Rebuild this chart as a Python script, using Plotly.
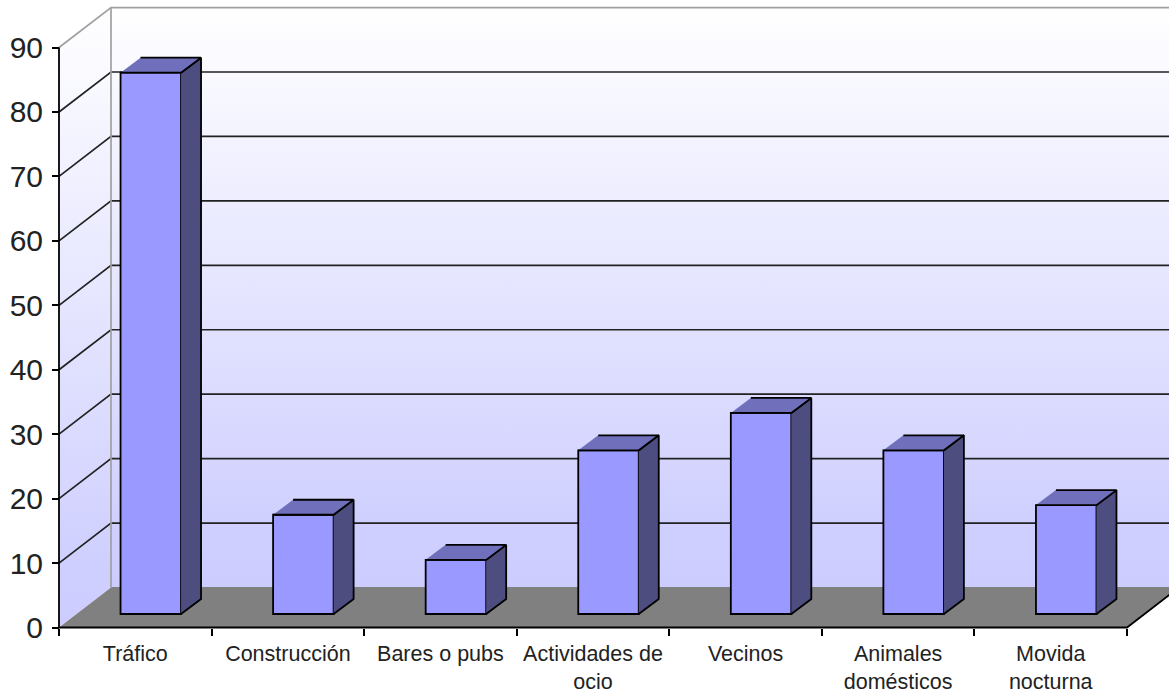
import plotly.graph_objects as go

categories = ["Tráfico", "Construcción", "Bares o pubs", "Actividades de<br>ocio",
              "Vecinos", "Animales<br>domésticos", "Movida<br>nocturna"]
values = [84.0, 15.4, 8.4, 25.4, 31.2, 25.4, 16.9]
y_ticks = [0, 10, 20, 30, 40, 50, 60, 70, 80, 90]

W, H = 1169, 696
X0_PX, Y0_PX = 59.0, 627.5
CAT_PX, UNIT_PX = 152.57, 6.444

xrange_ = [-0.5 - X0_PX / CAT_PX, -0.5 + (W - X0_PX) / CAT_PX]
yrange_ = [-(H - Y0_PX) / UNIT_PX, Y0_PX / UNIT_PX]

# depth of the box
DX, DY = 52 / CAT_PX, 40 / UNIT_PX
xL, xR = -0.5, 6.5
top = y_ticks[-1]

# bar geometry
BAR_W = 60.5 / CAT_PX
BAR_DX, BAR_BASE = 15.5 / CAT_PX, 13.5 / UNIT_PX
FACE_DX, FACE_DY = 20 / CAT_PX, 15 / UNIT_PX

GRAD = [[0, "#ccccff"], [0.1, "#cfcfff"], [1, "#ffffff"]]


def poly(xs, ys, color=None, line="black", width=1, axes=("x", "y"), grad=None):
    kw = dict(x=xs, y=ys, mode="lines", fill="toself", xaxis=axes[0], yaxis=axes[1],
              hoverinfo="skip", showlegend=False, line=dict(color=line, width=width))
    if grad:
        kw["fillgradient"] = dict(type="vertical", colorscale=grad)
        kw["line"] = dict(color="rgba(0,0,0,0)", width=0)
    else:
        kw["fillcolor"] = color
    return go.Scatter(**kw)


def path(xs, ys, color, width=1.2, axes=("x", "y")):
    return go.Scatter(x=xs, y=ys, mode="lines", xaxis=axes[0], yaxis=axes[1], hoverinfo="skip",
                      showlegend=False, line=dict(color=color, width=width))


fig = go.Figure()

# walls and floor
fig.add_trace(poly([xL, xL + DX, xL + DX, xL], [0, DY, top + DY, top], grad=GRAD))
fig.add_trace(poly([xL + DX, xR + DX, xR + DX, xL + DX], [DY, DY, top + DY, top + DY], grad=GRAD))
fig.add_trace(poly([xL, xR, xR + DX, xL + DX], [0, 0, DY, DY], color="#808080", line="#808080"))

# gridlines on the walls
for v in y_ticks[1:-1]:
    fig.add_trace(path([xL, xL + DX, xR + DX], [v, v + DY, v + DY], "#222222", 1.7))
fig.add_trace(path([xL, xL + DX, xR + DX], [top, top + DY, top + DY], "#a0a0a0", 1.7))
fig.add_trace(path([xL + DX, xL + DX], [DY, top + DY], "#a0a0a0", 1.7))

# axis lines
fig.add_trace(path([xL, xL], [0, top], "black", 1.8))
fig.add_trace(path([xL, xR, xR + DX], [0, 0, DY], "black", 1.8))

# bars: front faces
cx = [i + BAR_DX for i in range(len(values))]
fig.add_trace(go.Bar(x=cx, y=values, base=[BAR_BASE] * len(values), width=BAR_W,
                     marker=dict(color="#9999ff", line=dict(color="black", width=1.8)),
                     xaxis="x2", yaxis="y2", hoverinfo="skip", showlegend=False))

# bars: side and top faces
ax2 = ("x2", "y2")
for c, v in zip(cx, values):
    l, r = c - BAR_W / 2, c + BAR_W / 2
    b, t = BAR_BASE, BAR_BASE + v
    fig.add_trace(poly([r, r + FACE_DX, r + FACE_DX, r], [b, b + FACE_DY, t + FACE_DY, t],
                       color="#4d4d80", width=1.8, axes=ax2))
    fig.add_trace(poly([l, r, r + FACE_DX, l + FACE_DX], [t, t, t + FACE_DY, t + FACE_DY],
                       color="#6f6fbb", width=1.8, axes=ax2))

fig.update_layout(
    width=W, height=H, autosize=False,
    margin=dict(l=0, r=0, t=0, b=0, pad=0),
    paper_bgcolor="white", plot_bgcolor="white", showlegend=False,
    font=dict(family="Liberation Sans, Arial, sans-serif", color="#222222"),
    xaxis=dict(range=xrange_, domain=[0, 1], anchor="free", position=(H - Y0_PX) / H,
               tickmode="array", tickvals=list(range(len(categories))), ticktext=categories,
               tickangle=0, ticks="", showgrid=False, zeroline=False, showline=False,
               tickfont=dict(size=21.5, color="#222222"), ticklabelstandoff=11,
               minor=dict(ticks="outside", ticklen=7, tickwidth=1.8, tickcolor="black",
                          tickmode="array", tickvals=[i - 0.5 for i in range(len(categories) + 1)],
                          showgrid=False)),
    yaxis=dict(range=yrange_, domain=[0, 1], anchor="free", position=X0_PX / W,
               tickmode="array", tickvals=y_ticks, ticks="outside", ticklen=7, tickwidth=1.8,
               tickcolor="black", showgrid=False, zeroline=False, showline=False,
               tickfont=dict(size=30, color="#222222"), ticklabelstandoff=3),
    xaxis2=dict(range=xrange_, overlaying="x", anchor="y2", visible=False),
    yaxis2=dict(range=yrange_, overlaying="y", anchor="x2", visible=False),
)

fig.write_html("out.html", config={"displayModeBar": False},
               post_script="document.body.style.margin='0';")
